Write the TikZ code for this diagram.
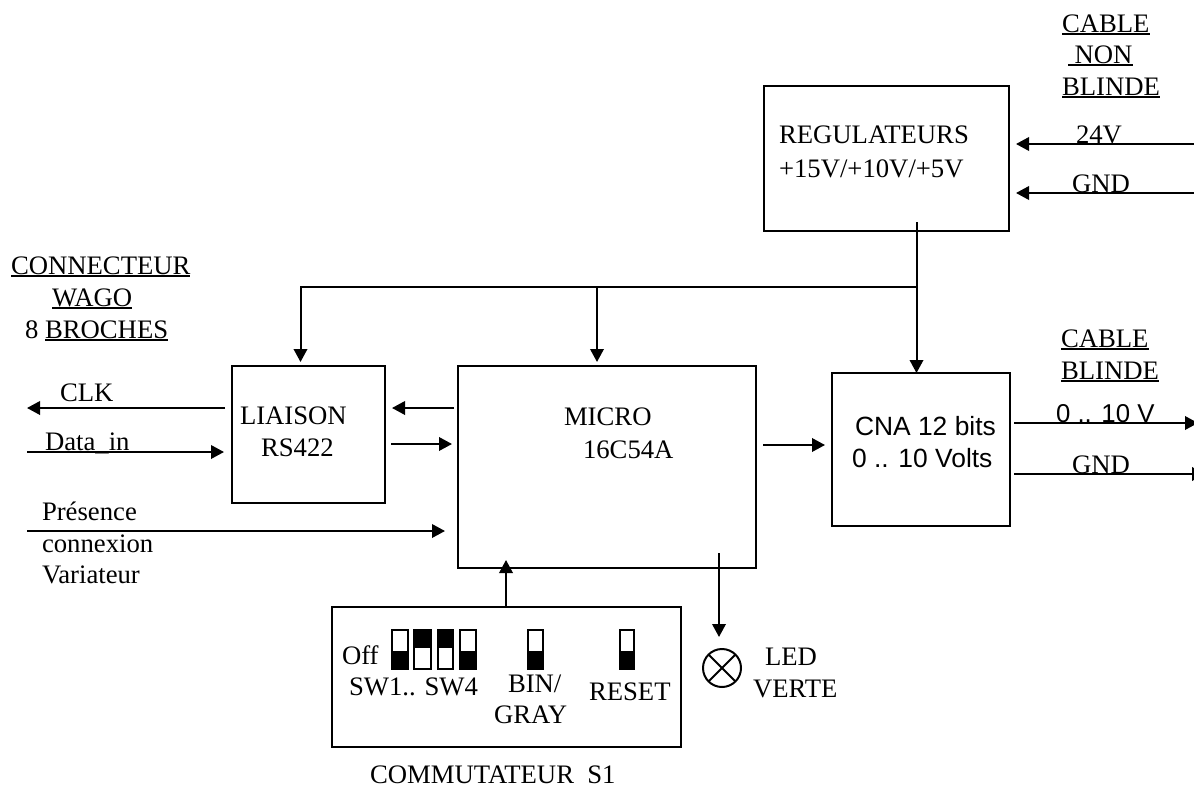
\documentclass[tikz,border=0pt]{standalone}
\usepackage{fontspec}
\setmainfont{Liberation Serif}
\newfontfamily\arialf{Liberation Sans}
\usetikzlibrary{arrows.meta}
\newcommand{\ul}[1]{\setbox0=\hbox{#1}\rlap{\rule[-2.6pt]{\wd0}{1.8pt}}\box0 }
\tikzset{
  x=1pt,y=-1pt,
  blockbox/.style={draw=black,line width=2pt,inner sep=0pt,outer sep=0pt},
  txt/.style={anchor=base west,inner sep=0pt,outer sep=0pt,font=\fontsize{26.7}{31}\selectfont},
  sans/.style={anchor=base west,inner sep=0pt,outer sep=0pt,font=\arialf\fontsize{26.4}{31}\selectfont},
  wire/.style={draw=black,line width=2pt},
  arr/.style={wire,-{Triangle[length=13pt,width=13.5pt]}},
  swbody/.style={draw=black,line width=2.2pt,fill=white},
  swfill/.style={fill=black,draw=black,line width=2.2pt},
}
\begin{document}
\begin{tikzpicture}
\useasboundingbox (0,0) rectangle (1194,787);
% blocks
\node[blockbox,minimum width=245pt,minimum height=145pt] (reg) at (886.5,158.5) {};
\node[blockbox,minimum width=153pt,minimum height=137pt] (liaison) at (308.5,434.5) {};
\node[blockbox,minimum width=298pt,minimum height=202pt] (micro) at (607,467) {};
\node[blockbox,minimum width=178pt,minimum height=153pt] (cna) at (921,449.5) {};
\node[blockbox,minimum width=349pt,minimum height=140pt] (comm) at (506.5,677) {};
\node[draw=black,line width=2pt,circle,minimum size=38pt,inner sep=0pt,outer sep=0pt] (led) at (722,668) {};
\draw[line width=2pt] (led.north west) -- (led.south east) (led.north east) -- (led.south west);
% texts
\node[txt] (t1) at (1062,32) {\ul{CABLE}};
\node[txt] (t2) at (1068,63) {\ul{\ NON}};
\node[txt] (t3) at (1062,95) {\ul{BLINDE}};
\node[txt] (t4) at (779,143) {REGULATEURS};
\node[txt] (t5) at (779,177) {+15V/+10V/+5V};
\node[txt] (t6) at (1076,143) {24V};
\node[txt] (t7) at (1072,192) {GND};
\node[txt] (t8) at (11,274) {\ul{CONNECTEUR}};
\node[txt] (t9) at (52,306) {\ul{WAGO}};
\node[txt] (t10) at (25,338) {8 \ul{BROCHES}};
\node[txt] (t11) at (60,401) {CLK};
\node[txt] (t12) at (45,450) {Data\_in};
\node[txt] (t13) at (42,520) {Présence};
\node[txt] (t14) at (42,552) {connexion};
\node[txt] (t15) at (42,583) {Variateur};
\node[txt] (t16) at (240,424) {LIAISON};
\node[txt] (t17) at (261,456) {RS422};
\node[txt] (t18) at (564,425) {MICRO};
\node[txt] (t19) at (583,458) {16C54A};
\node[sans] (t20) at (855,435) {CNA 12 bits};
\node[sans] (t21) at (852,467) {0 .. 10 Volts};
\node[txt] (t22) at (1061,347) {\ul{CABLE}};
\node[txt] (t23) at (1061,379) {\ul{BLINDE}};
\node[sans,font=\arialf\fontsize{25.8}{31}\selectfont] (t24) at (1056,422) {0 .. 10 V};
\node[txt] (t25) at (1072,473) {GND};
\node[txt] (t26) at (342,664) {Off};
\node[txt] (t27) at (349,695) {SW1.. SW4};
\node[txt] (t28) at (508,692) {BIN/};
\node[txt] (t29) at (494,723) {GRAY};
\node[txt] (t30) at (589,700) {RESET};
\node[txt] (t31) at (765,665) {LED};
\node[txt] (t32) at (753,697) {VERTE};
\node[txt] (t33) at (370,783) {COMMUTATEUR\ \ S1};
% switches
\draw[swbody] (392,630) rectangle (408,669); \draw[swfill] (392,652) rectangle (408,669);
\draw[swbody] (414,630) rectangle (431,669); \draw[swfill] (414,630) rectangle (431,647);
\draw[swbody] (438,630) rectangle (453,669); \draw[swfill] (438,630) rectangle (453,647);
\draw[swbody] (460,630) rectangle (476,669); \draw[swfill] (460,652) rectangle (476,669);
\draw[swbody] (528,630) rectangle (543,669); \draw[swfill] (528,652) rectangle (543,669);
\draw[swbody] (620,630) rectangle (634,669); \draw[swfill] (620,652) rectangle (634,669);
% connector coordinates
\coordinate (regs) at (916.5,222);
\coordinate (j) at (916.5,287);
\coordinate (jl) at (300.5,287);
\coordinate (tipl) at (300.5,362);
\coordinate (jm) at (597,287);
\coordinate (tipm) at (597,362);
\coordinate (clkE) at (27,408);
\coordinate (clkS) at (225,408);
\coordinate (dataS) at (27,452);
\coordinate (dataE) at (224,452);
\coordinate (presS) at (27,531);
\coordinate (presE) at (445,531);
\coordinate (ml1) at (454,408);
\coordinate (ml2) at (392,408);
\coordinate (lm1) at (391,444);
\coordinate (lm2) at (452,444);
\coordinate (mc1) at (763,445);
\coordinate (mc2) at (825,445);
\coordinate (v1) at (1014,423);
\coordinate (v2) at (1198,423);
\coordinate (g1) at (1014,474);
\coordinate (g2) at (1205,474);
\coordinate (p1) at (1194,144);
\coordinate (p2) at (1016,144);
\coordinate (p3) at (1194,193);
\coordinate (p4) at (1016,193);
\coordinate (ledS) at (719,553);
\coordinate (ledE) at (719,637);
\coordinate (swx) at (506,607);
\coordinate (swtip) at (506,560);
% connectors
\draw[arr] (j) -- (jl) -- (tipl);
\draw[arr] (jm) -- (tipm);
\draw[arr] (regs) -- (j |- cna.north);
\draw[arr] (clkS) -- (clkE);
\draw[arr] (dataS) -- (dataE);
\draw[arr] (presS) -- (presE);
\draw[arr] (ml1) -- (ml2);
\draw[arr] (lm1) -- (lm2);
\draw[arr] (mc1) -- (mc2);
\draw[arr] (v1) -- (v2);
\draw[arr] (g1) -- (g2);
\draw[arr] (p1) -- (p2);
\draw[arr] (p3) -- (p4);
\draw[arr] (ledS) -- (ledE);
\draw[arr] (swx) -- (swtip);
\end{tikzpicture}
\end{document}
